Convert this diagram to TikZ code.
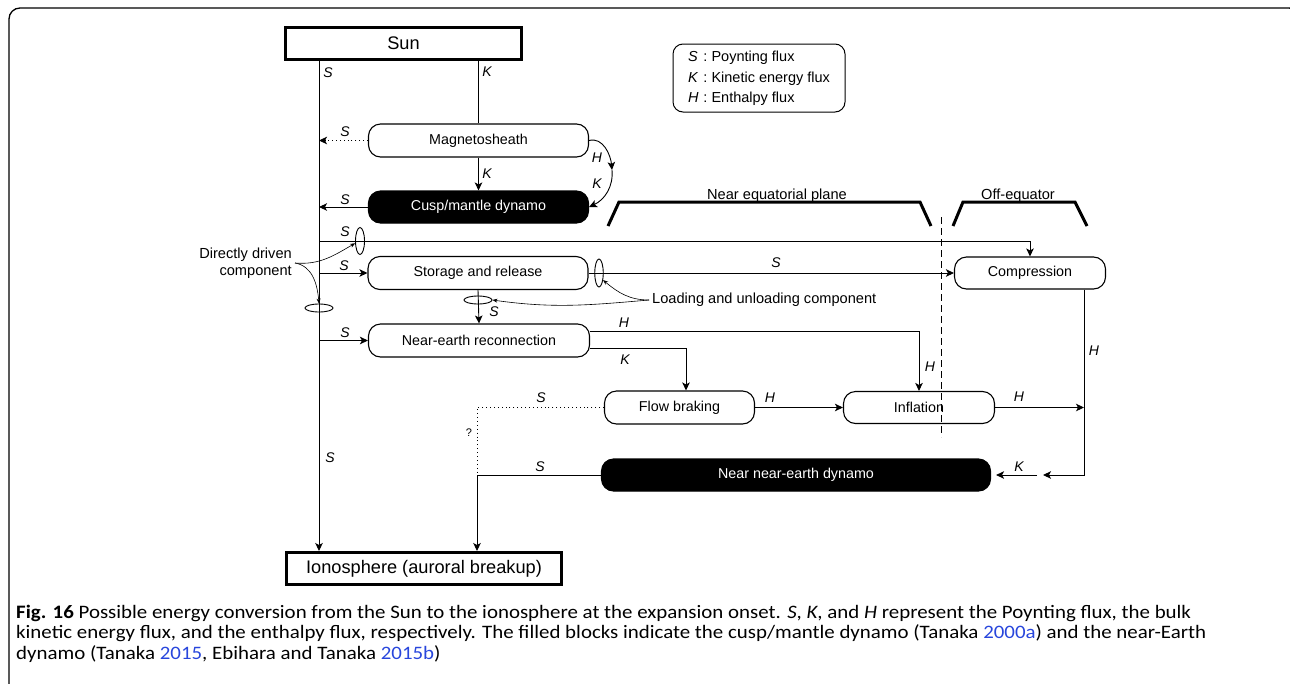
\documentclass[tikz,border=0pt]{standalone}
\usepackage{fontspec}
\setmainfont{Liberation Sans}
\newfontfamily\capfont{Carlito}
\usetikzlibrary{arrows.meta,shapes.geometric,calc}
\definecolor{linkblue}{RGB}{40,70,220}
\newcommand{\myfs}[1]{\fontsize{#1}{#1}\selectfont}
\begin{document}
\begin{tikzpicture}[x=1pt,y=-1pt,
  box/.style={draw, line width=1.1pt, rounded corners=12pt, minimum height=33pt, inner sep=0pt, font=\myfs{14.3}},
  darkbox/.style={box, fill=black, text=white},
  thickbox/.style={draw, line width=3pt, inner sep=0pt, font=\myfs{18.2}},
  lab/.style={inner sep=0pt, font=\myfs{14}\itshape},
  txt/.style={inner sep=0pt, font=\myfs{14.6}},
  ln/.style={line width=0.9pt},
  arr/.style={ln, -{Stealth[length=8pt,width=7.5pt,inset=2pt]}},
  dotline/.style={line width=0.9pt, dash pattern=on 0.9pt off 3pt},
  dashline/.style={line width=0.9pt, dash pattern=on 7pt off 4pt},
  ell/.style={draw, ellipse, line width=0.9pt, inner sep=0pt},
  lead/.style={line width=0.6pt, -{Stealth[length=5pt,width=4pt]}},
  bracket/.style={line width=3pt, line join=miter}
]
\useasboundingbox (0,0) rectangle (1290,683);
% frame
\begin{scope}
\clip (0,0) rectangle (1290,683);
\draw[line width=1.3pt, rounded corners=11pt] (9,8) rectangle (1300,720);
\end{scope}

% nodes
\node[thickbox, minimum width=236pt, minimum height=32pt] (sun) at (403.5,43.5) {Sun};
\node[draw, line width=1pt, rounded corners=10pt, minimum width=172pt, minimum height=68pt, inner sep=0pt, font=\fontsize{14.5}{20.5}\selectfont] (leg) at (759,78)
 {\begin{tabular}{@{}l@{\hspace{5pt}:\hspace{4pt}}l@{}}\textit{S} & Poynting flux\\ \textit{K} & Kinetic energy flux\\ \textit{H} & Enthalpy flux\end{tabular}};
\node[box, minimum width=220pt] (msh) at (478.5,140.5) {Magnetosheath};
\node[darkbox, minimum width=220pt, minimum height=32pt] (cusp) at (478.5,207) {Cusp/mantle dynamo};
\node[box, minimum width=220pt] (stor) at (478,273) {Storage and release};
\node[box, minimum width=221pt] (ner) at (479,340.5) {Near-earth reconnection};
\node[box, minimum width=150pt] (fb) at (679.5,407.5) {Flow braking};
\node[box, minimum width=151pt, minimum height=32pt] (infl) at (919,407.5) {Inflation};
\node[box, minimum width=151pt, minimum height=32pt] (comp) at (1030,273) {Compression};
\node[darkbox, minimum width=389pt, minimum height=32pt] (nne) at (796,475) {Near near-earth dynamo};
\node[thickbox, minimum width=275pt, minimum height=32pt] (iono) at (424,568.5) {Ionosphere (auroral breakup)};

% helper coordinates
\coordinate (sL) at (319,0);
\coordinate (dd) at (319,241);
\coordinate (hk) at (612,170);
\coordinate (jn) at (477,475);
\coordinate (hR) at (1084,407.5);
\coordinate (kA) at (1043,475);
\coordinate (kB) at (1037,475);

% connectors
\draw[arr] (sun.south -| sL) -- (iono.north -| sL);
\draw[ln] (msh.north |- sun.south) -- (msh.north);
\draw[arr, dotline] (msh.west) -- (msh.west -| sL);
\draw[arr] (msh.south) -- (cusp.north);
\draw[arr] (msh.east) to[out=15,in=95] (hk);
\draw[arr] (hk) to[out=-85,in=25] (cusp.east);
\draw[arr] (cusp.west) -- (cusp.west -| sL);
\draw[arr] (dd) -| (comp.north);
\draw[arr] (sL |- stor.west) -- (stor.west);
\draw[arr] (stor.east) -- (comp.west);
\draw[arr] (stor.south) -- (ner.north);
\draw[arr] (sL |- ner.west) -- (ner.west);
\draw[arr] ([yshift=9.5pt]ner.east) -| (infl.north);
\draw[arr] ([yshift=-7.5pt]ner.east) -| ([xshift=6.5pt]fb.north);
\draw[arr] (fb.east) -- (infl.west);
\draw[dotline] (fb.west) -| (jn);
\draw[arr] (infl.east) -- (hR);
\draw[arr] ([xshift=54pt]comp.south) |- (kA);
\draw[arr, shorten >=5pt] (kB) -- (nne.east);
\draw[arr] (nne.west) -| (jn |- iono.north);

% ellipses
\node[ell, minimum width=9pt, minimum height=27pt] (e1) at (360,241) {};
\node[ell, minimum width=28pt, minimum height=8pt] (e2) at (319,308) {};
\node[ell, minimum width=8.5pt, minimum height=28pt] (e3) at (599,273) {};
\node[ell, minimum width=28pt, minimum height=8pt] (e4) at (478,300) {};

% annotations
\node[txt, align=right, anchor=east, font=\fontsize{14.6}{16.5}\selectfont] (ddc) at (292,263) {Directly driven\\component};
\draw[lead] ([xshift=3pt]ddc.east) to[out=-5,in=210] (e1.205);
\draw[lead] ([xshift=3pt]ddc.east) to[out=-10,in=95] (e2.north);
\node[txt, anchor=west] (luc) at (652,300) {Loading and unloading component};
\draw[lead] ([xshift=-3pt]luc.west) to[out=180,in=-40] (e3.-60);
\draw[lead] ([xshift=-3pt]luc.west) to[out=185,in=-8] (e4.east);

% divider and brackets
\draw[dashline] (941,217) -- (941,437);
\draw[bracket] (608,226) -- (619,202) -- (920,202) -- (931,226);
\draw[bracket] (953,226) -- (963,202) -- (1075,202) -- (1087,226);
\node[txt, anchor=base] (nep) at (777,199) {Near equatorial plane};
\node[txt, anchor=base] (offe) at (1018,199) {Off-equator};

% flux labels
\node[lab] (l1) at (328,73) {S};
\node[lab] (l2) at (487,72) {K};
\node[lab] (l3) at (345,132) {S};
\node[lab] (l4) at (487,174) {K};
\node[lab] (l5) at (597,158) {H};
\node[lab] (l6) at (597,184) {K};
\node[lab] (l7) at (345,200) {S};
\node[lab] (l8) at (345,232) {S};
\node[lab] (l9) at (344,266) {S};
\node[lab] (l10) at (776,263) {S};
\node[lab] (l11) at (494,312) {S};
\node[lab] (l12) at (345,333) {S};
\node[lab] (l13) at (624,323) {H};
\node[lab] (l14) at (625,360) {K};
\node[lab] (l15) at (541,398) {S};
\node[lab] (l16) at (770,398) {H};
\node[lab] (l17) at (930,367) {H};
\node[lab] (l18) at (1019,397) {H};
\node[lab] (l19) at (1094,351) {H};
\node[lab] (l20) at (1019,467) {K};
\node[lab] (l21) at (330,458) {S};
\node[lab] (l22) at (540,467) {S};
\node[inner sep=0pt, font=\myfs{11}] (q) at (469,433) {?};

% caption
\node[anchor=base west, inner sep=0pt, font=\capfont\fontsize{19}{20.5}\selectfont] (cap) at (16,618)
 {\scalebox{1.1}[1]{\begin{tabular}[t]{@{}l@{}}\textbf{Fig. 16} Possible energy conversion from the Sun to the ionosphere at the expansion onset. \textit{S}, \textit{K}, and \textit{H} represent the Poynting flux, the bulk\\
  kinetic energy flux, and the enthalpy flux, respectively. The filled blocks indicate the cusp/mantle dynamo (Tanaka \textcolor{linkblue}{2000a}) and the near-Earth\\
  dynamo (Tanaka \textcolor{linkblue}{2015}, Ebihara and Tanaka \textcolor{linkblue}{2015b})\end{tabular}}};
\end{tikzpicture}
\end{document}
